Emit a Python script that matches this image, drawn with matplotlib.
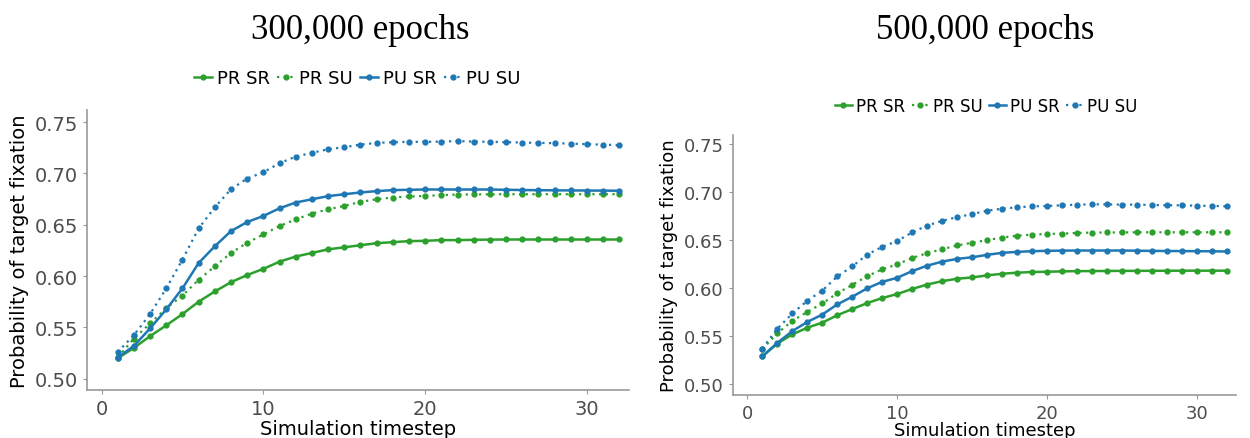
import matplotlib.pyplot as plt

# Datos (timesteps 1..32)
timestep = list(range(1, 33))

# Panel izquierdo: 300,000 epochs
pr_sr_300 = [0.520, 0.530, 0.5415, 0.552, 0.563, 0.575, 0.585, 0.594, 0.601, 0.607,
             0.614, 0.619, 0.6225, 0.626, 0.628, 0.630, 0.632, 0.633, 0.634, 0.6343,
             0.635, 0.635, 0.6353, 0.6355, 0.6356, 0.6356, 0.6356, 0.6356, 0.6356, 0.6356,
             0.6356, 0.6356]
pr_su_300 = [0.521, 0.539, 0.554, 0.5686, 0.581, 0.5964, 0.6095, 0.6225, 0.6324, 0.6405,
             0.6487, 0.6552, 0.6608, 0.665, 0.6683, 0.6722, 0.6748, 0.6765, 0.6775, 0.678,
             0.6788, 0.6794, 0.6795, 0.6796, 0.6797, 0.6797, 0.6797, 0.6797, 0.6797, 0.6797,
             0.6797, 0.6797]
pu_sr_300 = [0.5206, 0.532, 0.549, 0.5676, 0.588, 0.6127, 0.629, 0.6438, 0.6526, 0.6585,
             0.666, 0.6716, 0.6748, 0.6778, 0.6797, 0.6814, 0.6827, 0.6837, 0.684, 0.6843,
             0.6843, 0.6843, 0.6843, 0.6843, 0.684, 0.6838, 0.6836, 0.6835, 0.6834, 0.6833,
             0.6832, 0.6831]
pu_su_300 = [0.526, 0.5425, 0.563, 0.588, 0.616, 0.6464, 0.667, 0.6846, 0.695, 0.701,
             0.710, 0.7163, 0.720, 0.7235, 0.7255, 0.728, 0.7297, 0.7304, 0.7307, 0.7307,
             0.731, 0.7314, 0.731, 0.7307, 0.7304, 0.730, 0.7297, 0.7294, 0.729, 0.7284,
             0.728, 0.7275]

# Panel derecho: 500,000 epochs
pr_sr_500 = [0.5288, 0.5421, 0.5516, 0.5586, 0.5639, 0.5716, 0.578, 0.5843, 0.5895, 0.5937,
             0.599, 0.6036, 0.6071, 0.6096, 0.611, 0.6131, 0.6148, 0.6159, 0.6166, 0.6169,
             0.6173, 0.6175, 0.6176, 0.6177, 0.6178, 0.6178, 0.6179, 0.6179, 0.618, 0.618,
             0.618, 0.618]
pr_su_500 = [0.5365, 0.5527, 0.5657, 0.5751, 0.5839, 0.5945, 0.6032, 0.6124, 0.6194, 0.6246,
             0.6313, 0.6362, 0.6404, 0.6443, 0.6471, 0.6499, 0.6524, 0.6545, 0.6555, 0.6563,
             0.6566, 0.6573, 0.6577, 0.6578, 0.6579, 0.658, 0.658, 0.658, 0.658, 0.658,
             0.658, 0.658]
pu_sr_500 = [0.5288, 0.5428, 0.5551, 0.5646, 0.5723, 0.5829, 0.5909, 0.5997, 0.6064, 0.6106,
             0.6176, 0.6232, 0.6275, 0.6303, 0.632, 0.6345, 0.6366, 0.6376, 0.6383, 0.6387,
             0.6389, 0.639, 0.639, 0.639, 0.639, 0.6388, 0.6386, 0.6385, 0.6384, 0.6383,
             0.6382, 0.638]
pu_su_500 = [0.5369, 0.5576, 0.5734, 0.5867, 0.5973, 0.612, 0.6225, 0.6348, 0.6429, 0.6489,
             0.658, 0.665, 0.670, 0.6738, 0.677, 0.6805, 0.6826, 0.684, 0.685, 0.6854,
             0.6861, 0.6868, 0.6871, 0.6871, 0.6868, 0.6868, 0.6864, 0.6862, 0.6861, 0.6857,
             0.6855, 0.685]

etiquetas = ['PR SR', 'PR SU', 'PU SR', 'PU SU']
verde = '#2ca02c'
azul = '#1f77b4'
gris = '#4d4d4d'

fig = plt.figure(figsize=(12.5, 4.39), dpi=100)


def dibujar_panel(ax, series, fs, xlim, ylim, pad_x):
    estilos = [(verde, '-', 1.8), (verde, (0, (1, 2)), 1.6),
               (azul, '-', 1.8), (azul, (0, (1, 2)), 1.6)]
    for datos, etiqueta, (color, ls, lw) in zip(series, etiquetas, estilos):
        ax.plot(timestep, datos, color=color, linestyle=ls, linewidth=lw,
                marker='o', markersize=3.5, label=etiqueta)
    ax.set_xlim(*xlim)
    ax.set_ylim(*ylim)
    ax.set_xticks([0, 10, 20, 30])
    ax.set_yticks([0.50, 0.55, 0.60, 0.65, 0.70, 0.75])
    ax.set_yticklabels(['0.50', '0.55', '0.60', '0.65', '0.70', '0.75'])
    ax.spines['top'].set_visible(False)
    ax.spines['right'].set_visible(False)
    for lado in ['left', 'bottom']:
        ax.spines[lado].set_color('#999999')
        ax.spines[lado].set_linewidth(1.2)
    ax.tick_params(axis='both', colors='#999999', labelcolor=gris,
                   labelsize=fs, length=3, width=0.8)
    ax.set_xlabel('Simulation timestep', fontsize=fs, labelpad=pad_x)
    ax.set_ylabel('Probability of target fixation', fontsize=fs, labelpad=4)


# Panel izquierdo
ax1 = fig.add_axes([0.0696, 0.1093, 0.4336, 0.6378])
dibujar_panel(ax1, [pr_sr_300, pr_su_300, pu_sr_300, pu_su_300], 14,
              (-0.9, 32.6), (0.489, 0.7617), 1)
fig.text(0.288, 0.93, '300,000 epochs', family='Liberation Serif', fontsize=25,
         ha='center', va='center')
fig.legend(*ax1.get_legend_handles_labels(), loc='center', bbox_to_anchor=(0.286, 0.82),
           ncol=4, frameon=False, fontsize=13, handlelength=1.0, handletextpad=0.25,
           columnspacing=0.4)

# Panel derecho
ax2 = fig.add_axes([0.5864, 0.098, 0.4024, 0.5923])
dibujar_panel(ax2, [pr_sr_500, pr_su_500, pu_sr_500, pu_su_500], 13,
              (-0.96, 32.6), (0.4885, 0.7594), -1)
fig.text(0.788, 0.93, '500,000 epochs', family='Liberation Serif', fontsize=25,
         ha='center', va='center')
fig.legend(*ax2.get_legend_handles_labels(), loc='center', bbox_to_anchor=(0.789, 0.757),
           ncol=4, frameon=False, fontsize=12, handlelength=1.0, handletextpad=0.25,
           columnspacing=0.4)

plt.savefig('out.png', dpi=100)
